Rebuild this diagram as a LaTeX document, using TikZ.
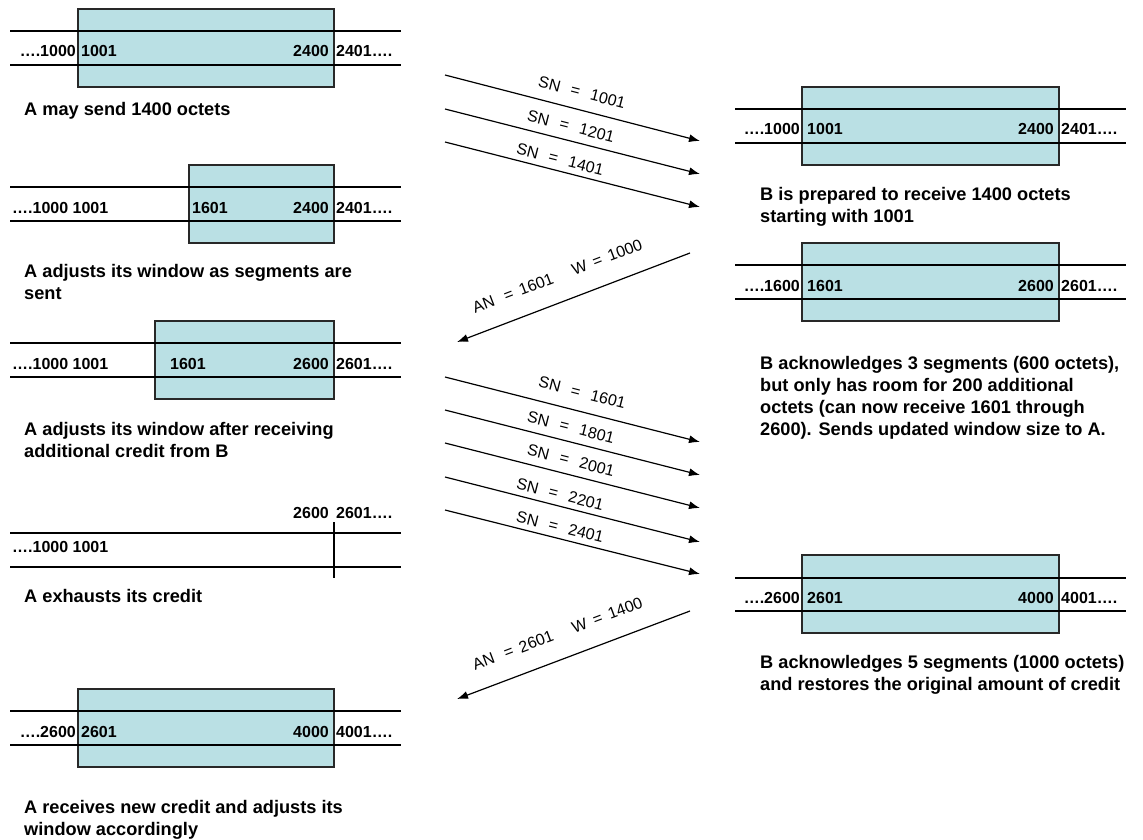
\documentclass[tikz,border=0pt]{standalone}
\usepackage{fontspec}
\setmainfont{Liberation Sans}
\usetikzlibrary{arrows.meta}
\definecolor{winfill}{RGB}{186,224,228}
\definecolor{winedge}{RGB}{40,40,40}
\begin{document}
\begin{tikzpicture}[x=1pt,y=-1pt,
  winbox/.style={draw=winedge, line width=1.4pt, fill=winfill, inner sep=0pt, minimum height=78pt},
  strip/.style={line width=1.1pt, black},
  num/.style={inner sep=0pt, font=\fontsize{16}{19}\selectfont\bfseries},
  numL/.style={num, anchor=base east},
  numR/.style={num, anchor=base west},
  % multi-line captions: the base anchor sits on the last line's baseline
  captxt/.style={inner sep=0pt, anchor=base west, align=left, font=\fontsize{18.2}{22}\selectfont\bfseries},
  msg/.style={line width=1.2pt, -{Latex[length=11pt,width=8pt]}},
  lbl/.style={sloped, inner sep=0pt, font=\fontsize{16}{19}\selectfont}
]
\useasboundingbox (0,0) rectangle (1143,840);

% ---------------- sender A ----------------
% A1: initial window
\node[winbox, minimum width=256pt] (wa1) at (206,48) {};
\draw[strip] (10,31) -- (401,31) (10,65) -- (401,65);
\node[numL] (a1l) at (76,57) {….1000};
\node[numR] (a1s) at (81,57) {1001};
\node[numL] (a1e) at (329,57) {2400};
\node[numR] (a1r) at (336,57) {2401….};
\node[captxt] (ca1) at (24,116) {A may send 1400 octets};

% A2: window shrinks as segments go out
\node[winbox, minimum width=145pt] (wa2) at (261.5,204) {};
\draw[strip] (10,187) -- (401,187) (10,221) -- (401,221);
\node[numR] (a2l) at (12,213) {….1000 1001};
\node[numR] (a2s) at (192,213) {1601};
\node[numL] (a2e) at (329,213) {2400};
\node[numR] (a2r) at (336,213) {2401….};
\node[captxt] (ca2) at (24,299) {A adjusts its window as segments are\\sent};

% A3: window after the credit from B
\node[winbox, minimum width=179pt] (wa3) at (244.5,360) {};
\draw[strip] (10,343) -- (401,343) (10,377) -- (401,377);
\node[numR] (a3l) at (12,369) {….1000 1001};
\node[numR] (a3s) at (170,369) {1601};
\node[numL] (a3e) at (329,369) {2600};
\node[numR] (a3r) at (336,369) {2601….};
\node[captxt] (ca3) at (24,457) {A adjusts its window after receiving\\additional credit from B};

% A4: credit exhausted
\draw[strip] (10,533) -- (401,533) (10,567) -- (401,567);
\draw[strip] (334,522) -- (334,578);
\node[numL] (a4e) at (329,518) {2600};
\node[numR] (a4r) at (336,518) {2601….};
\node[numR] (a4l) at (12,552) {….1000 1001};
\node[captxt] (ca4) at (24,602) {A exhausts its credit};

% A5: new credit
\node[winbox, minimum width=256pt] (wa5) at (206,728) {};
\draw[strip] (10,711) -- (401,711) (10,745) -- (401,745);
\node[numL] (a5l) at (76,737) {….2600};
\node[numR] (a5s) at (81,737) {2601};
\node[numL] (a5e) at (329,737) {4000};
\node[numR] (a5r) at (336,737) {4001….};
\node[captxt] (ca5) at (24,835) {A receives new credit and adjusts its\\window accordingly};

% ---------------- receiver B ----------------
% B1
\node[winbox, minimum width=257pt] (wb1) at (930.5,126) {};
\draw[strip] (735,109) -- (1126,109) (735,143) -- (1126,143);
\node[numL] (b1l) at (800,135) {….1000};
\node[numR] (b1s) at (807,135) {1001};
\node[numL] (b1e) at (1054,135) {2400};
\node[numR] (b1r) at (1061,135) {2401….};
\node[captxt] (cb1) at (760,222) {B is prepared to receive 1400 octets\\starting with 1001};

% B2
\node[winbox, minimum width=257pt] (wb2) at (930.5,282) {};
\draw[strip] (735,265) -- (1126,265) (735,299) -- (1126,299);
\node[numL] (b2l) at (800,291) {….1600};
\node[numR] (b2s) at (807,291) {1601};
\node[numL] (b2e) at (1054,291) {2600};
\node[numR] (b2r) at (1061,291) {2601….};
\node[captxt] (cb2) at (760,435) {B acknowledges 3 segments (600 octets),\\but only has room for 200 additional\\octets (can now receive 1601 through\\2600). Sends updated window size to A.};

% B3
\node[winbox, minimum width=257pt] (wb3) at (930.5,594) {};
\draw[strip] (735,578) -- (1126,578) (735,611) -- (1126,611);
\node[numL] (b3l) at (800,603) {….2600};
\node[numR] (b3s) at (807,603) {2601};
\node[numL] (b3e) at (1054,603) {4000};
\node[numR] (b3r) at (1061,603) {4001….};
\node[captxt] (cb3) at (760,690) {B acknowledges 5 segments (1000 octets)\\and restores the original amount of credit};

% ---------------- segments A -> B ----------------
\coordinate (s1a) at (445,75);  \coordinate (s1b) at (700,141);
\coordinate (s2a) at (445,109); \coordinate (s2b) at (700,174);
\coordinate (s3a) at (445,142); \coordinate (s3b) at (700,207);
\draw[msg] (s1a) -- (s1b) node[lbl, pos=0.52, above=11.2pt] (l1) {SN\hspace{11pt}=\hspace{11pt}1001};
\draw[msg] (s2a) -- (s2b) node[lbl, pos=0.48, above=8pt] (l2) {SN\hspace{11pt}=\hspace{11pt}1201};
\draw[msg] (s3a) -- (s3b) node[lbl, pos=0.44, above=5.3pt] (l3) {SN\hspace{11pt}=\hspace{11pt}1401};

% acknowledgement B -> A
\coordinate (k1a) at (690,253); \coordinate (k1b) at (457,342);
\draw[msg] (k1a) -- (k1b) node[lbl, pos=0.53, above=19.4pt] (lk1)
  {AN\hspace{11pt}=\hspace{7pt}1601\hspace{21pt}W\hspace{7pt}=\hspace{7pt}1000};

% second burst A -> B
\coordinate (t1a) at (445,377); \coordinate (t1b) at (700,442);
\coordinate (t2a) at (445,410); \coordinate (t2b) at (700,475);
\coordinate (t3a) at (445,443); \coordinate (t3b) at (700,508);
\coordinate (t4a) at (445,477); \coordinate (t4b) at (700,542);
\coordinate (t5a) at (445,510); \coordinate (t5b) at (700,574);
\draw[msg] (t1a) -- (t1b) node[lbl, pos=0.52, above=12.6pt] (m1) {SN\hspace{11pt}=\hspace{11pt}1601};
\draw[msg] (t2a) -- (t2b) node[lbl, pos=0.48, above=8pt] (m2) {SN\hspace{11pt}=\hspace{11pt}1801};
\draw[msg] (t3a) -- (t3b) node[lbl, pos=0.48, above=8pt] (m3) {SN\hspace{11pt}=\hspace{11pt}2001};
\draw[msg] (t4a) -- (t4b) node[lbl, pos=0.44, above=5.3pt] (m4) {SN\hspace{11pt}=\hspace{11pt}2201};
\draw[msg] (t5a) -- (t5b) node[lbl, pos=0.44, above=5.3pt] (m5) {SN\hspace{11pt}=\hspace{11pt}2401};

% second acknowledgement B -> A
\coordinate (k2a) at (690,611); \coordinate (k2b) at (457,699);
\draw[msg] (k2a) -- (k2b) node[lbl, pos=0.53, above=19.4pt] (lk2)
  {AN\hspace{11pt}=\hspace{7pt}2601\hspace{21pt}W\hspace{7pt}=\hspace{7pt}1400};
\end{tikzpicture}
\end{document}
